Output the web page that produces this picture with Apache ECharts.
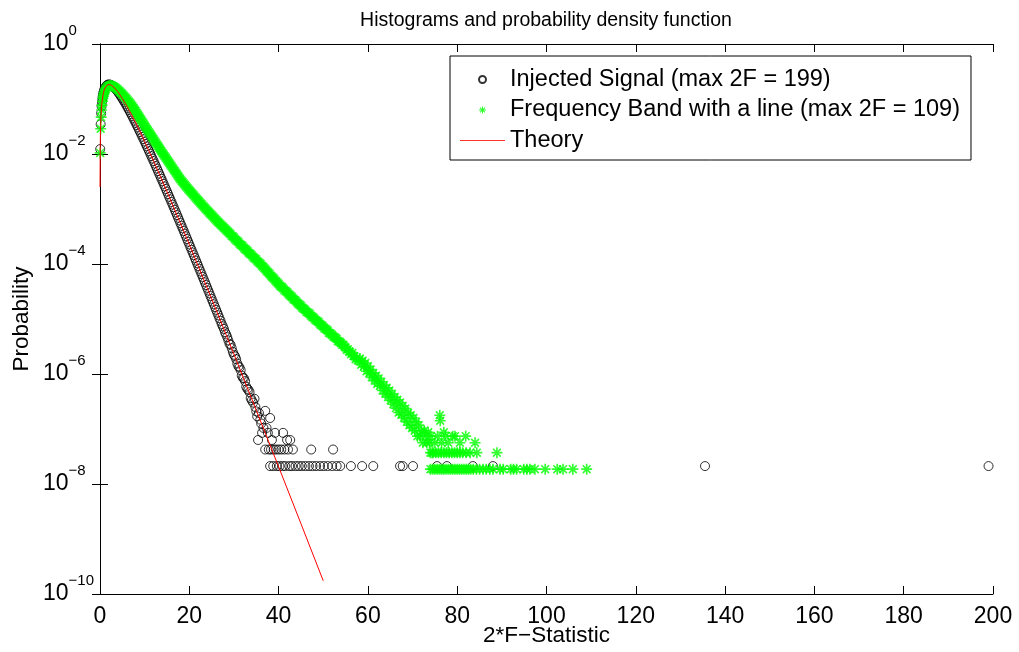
<!DOCTYPE html>
<html>
<head>
<meta charset="utf-8">
<script src="https://cdn.jsdelivr.net/npm/echarts@6/dist/echarts.min.js"></script>
<style>
	html, body { margin: 0; padding: 0; background: #fff; }
	#chart { width: 1019px; height: 652px; }
</style>
</head>
<body>
<div id="chart"></div>
<script>
// values: [2F, log10(probability)]
var xTicks = [0, 20, 40, 60, 80, 100, 120, 140, 160, 180, 200];
var yTicks = [-10, -8, -6, -4, -2, 0];

// injected signal, dense part of the histogram
var signalBand = [
	[0.05,-1.91],[0.15,-1.46],[0.25,-1.26],[0.35,-1.13],[0.45,-1.05],[0.55,-0.98],[0.65,-0.93],
	[0.75,-0.89],[0.85,-0.86],[0.95,-0.83],[1.1,-0.80],[1.25,-0.78],[1.5,-0.752],[1.75,-0.74],
	[2,-0.735],[2.25,-0.739],[2.5,-0.747],[2.75,-0.76],[3,-0.776],[3.25,-0.796],[3.5,-0.818],
	[3.75,-0.842],[4,-0.869],[4.25,-0.897],[4.5,-0.926],[4.75,-0.957],[5,-0.989],[5.25,-1.022],
	[5.5,-1.056],[5.75,-1.091],[6,-1.127],[6.25,-1.163],[6.5,-1.200],[6.75,-1.238],[7,-1.277],
	[7.25,-1.316],[7.5,-1.356],[7.75,-1.396],[8,-1.436],[8.25,-1.477],[8.5,-1.518],[8.75,-1.56],
	[9,-1.602],[9.25,-1.644],[9.5,-1.687],[9.75,-1.73],[10,-1.774],[10.25,-1.817],[10.5,-1.861],
	[10.75,-1.905],[11,-1.949],[11.25,-1.994],[11.5,-2.039],[11.75,-2.084],[12,-2.129],
	[12.25,-2.174],[12.5,-2.219],[12.75,-2.265],[13,-2.311],[13.25,-2.357],[13.5,-2.404],
	[13.75,-2.45],[14,-2.496],[14.25,-2.543],[14.5,-2.590],[14.75,-2.636],[15,-2.683],
	[15.25,-2.73],[15.5,-2.778],[15.75,-2.825],[16,-2.872],[16.25,-2.92],[16.5,-2.968],
	[16.75,-3.015],[17,-3.063],[17.25,-3.111],[17.5,-3.159],[17.75,-3.207],[18,-3.256],
	[18.25,-3.304],[18.5,-3.352],[18.75,-3.40],[19,-3.449],[19.25,-3.497],[19.5,-3.546],
	[19.75,-3.595],[20,-3.644],[20.25,-3.693],[20.5,-3.742],[20.75,-3.791],[21,-3.840],
	[21.25,-3.889],[21.5,-3.938],[21.75,-3.987],[22,-4.037],[22.25,-4.086],[22.5,-4.136],
	[22.75,-4.185],[23,-4.235],[23.25,-4.284],[23.5,-4.334],[23.75,-4.383],[24,-4.433],
	[24.25,-4.483],[24.5,-4.533],[24.75,-4.583],[25,-4.633],[25.25,-4.683],[25.5,-4.733],
	[25.75,-4.783],[26,-4.833],[26.25,-4.883],[26.5,-4.933],[26.75,-4.984],[27,-5.034],
	[27.25,-5.09],[27.5,-5.134],[27.75,-5.18],[28,-5.24],[28.25,-5.28],[28.5,-5.33],
	[28.75,-5.39],[29,-5.45],[29.25,-5.47],[29.5,-5.53],[29.75,-5.60],[30,-5.65],[30.25,-5.68],
	[30.5,-5.73],[30.75,-5.81],[31,-5.86],[31.25,-5.88],[31.5,-5.93],[31.75,-6.03],[32,-6.07],
	[32.25,-6.08],[32.5,-6.13],[32.75,-6.23],[33,-6.27],[33.25,-6.29],[33.5,-6.33],
	[33.75,-6.44],[34,-6.48]
];
// injected signal, scattered low-count bins
var signalTail = [
	[34.3,-6.52],[34.6,-6.45],[34.8,-6.60],[35.0,-6.68],[35.2,-6.77],[35.4,-7.20],[35.6,-6.71],
	[35.9,-6.83],[36.1,-6.90],[36.3,-7.07],[36.6,-6.98],[37.0,-6.67],[37.3,-6.98],[37.6,-7.07],
	[38.1,-6.80],[38.5,-7.20],[39.2,-7.07],[41.0,-7.07],[41.9,-7.20],[42.6,-7.20],
	[37.0,-7.373],[37.8,-7.373],[38.3,-7.373],[38.9,-7.373],[39.4,-7.373],[40.0,-7.373],
	[40.6,-7.373],[41.3,-7.373],[42.1,-7.373],[43.2,-7.373],[47.3,-7.373],[52.2,-7.373],
	[38.1,-7.674],[38.8,-7.674],[39.6,-7.674],[40.2,-7.674],[40.9,-7.674],[41.5,-7.674],
	[42.4,-7.674],[43.0,-7.674],[43.8,-7.674],[44.5,-7.674],[45.2,-7.674],[46.0,-7.674],
	[46.8,-7.674],[47.6,-7.674],[48.4,-7.674],[49.3,-7.674],[50.1,-7.674],[51.0,-7.674],
	[52.0,-7.674],[53.0,-7.674],[53.8,-7.674],[56.2,-7.674],[58.7,-7.674],[61.2,-7.674],
	[67.2,-7.674],[67.8,-7.674],[70.1,-7.674],[75.5,-7.674],[77.7,-7.674],[83.5,-7.674],
	[88.0,-7.674],[135.5,-7.674],[199,-7.674]
];

// frequency band with a line, dense part
var bandBand = [
	[0.05,-1.98],[0.15,-1.54],[0.25,-1.33],[0.35,-1.20],[0.45,-1.11],[0.55,-1.04],[0.65,-0.99],
	[0.75,-0.95],[0.85,-0.915],[0.95,-0.885],[1.1,-0.85],[1.25,-0.82],[1.5,-0.79],[1.75,-0.77],
	[2,-0.76],[2.25,-0.756],[2.5,-0.755],[2.75,-0.76],[3,-0.77],[3.25,-0.781],[3.5,-0.795],
	[3.75,-0.812],[4,-0.83],[4.25,-0.85],[4.5,-0.87],[4.75,-0.89],[5,-0.91],[5.25,-0.932],
	[5.5,-0.955],[5.75,-0.977],[6,-1.00],[6.25,-1.025],[6.5,-1.05],[6.75,-1.075],[7,-1.10],
	[7.25,-1.13],[7.5,-1.16],[7.75,-1.19],[8,-1.22],[8.25,-1.252],[8.5,-1.285],[8.75,-1.317],
	[9,-1.35],[9.25,-1.382],[9.5,-1.415],[9.75,-1.447],[10,-1.48],[10.25,-1.512],[10.5,-1.545],
	[10.75,-1.576],[11,-1.607],[11.25,-1.638],[11.5,-1.67],[11.75,-1.70],[12,-1.732],
	[12.25,-1.763],[12.5,-1.794],[12.75,-1.825],[13,-1.856],[13.25,-1.887],[13.5,-1.918],
	[13.75,-1.949],[14,-1.98],[14.25,-2.01],[14.5,-2.04],[14.75,-2.07],[15,-2.10],[15.25,-2.13],
	[15.5,-2.16],[15.75,-2.19],[16,-2.22],[16.25,-2.25],[16.5,-2.28],[16.75,-2.31],[17,-2.34],
	[17.25,-2.37],[17.5,-2.40],[17.75,-2.43],[18,-2.46],[18.25,-2.485],[18.5,-2.51],
	[18.75,-2.535],[19,-2.56],[19.25,-2.585],[19.5,-2.61],[19.75,-2.635],[20,-2.66],
	[20.25,-2.682],[20.5,-2.705],[20.75,-2.727],[21,-2.75],[21.25,-2.775],[21.5,-2.80],
	[21.75,-2.822],[22,-2.845],[22.25,-2.867],[22.5,-2.89],[22.75,-2.912],[23,-2.935],
	[23.25,-2.957],[23.5,-2.98],[23.75,-3.002],[24,-3.025],[24.25,-3.047],[24.5,-3.07],
	[24.75,-3.09],[25,-3.11],[25.25,-3.132],[25.5,-3.155],[25.75,-3.177],[26,-3.20],
	[26.25,-3.22],[26.5,-3.24],[26.75,-3.26],[27,-3.28],[27.25,-3.30],[27.5,-3.32],
	[27.75,-3.34],[28,-3.36],[28.25,-3.38],[28.5,-3.40],[28.75,-3.42],[29,-3.44],[29.25,-3.46],
	[29.5,-3.49],[29.75,-3.50],[30,-3.52],[30.25,-3.55],[30.5,-3.57],[30.75,-3.58],[31,-3.60],
	[31.25,-3.63],[31.5,-3.65],[31.75,-3.66],[32,-3.68],[32.25,-3.71],[32.5,-3.73],
	[32.75,-3.74],[33,-3.76],[33.25,-3.79],[33.5,-3.81],[33.75,-3.82],[34,-3.84],[34.25,-3.87],
	[34.5,-3.89],[34.75,-3.90],[35,-3.92],[35.25,-3.95],[35.5,-3.97],[35.75,-3.98],[36,-4.00],
	[36.25,-4.03],[36.5,-4.05],[36.75,-4.07],[37,-4.09],[37.25,-4.12],[37.5,-4.14],
	[37.75,-4.16],[38,-4.18],[38.25,-4.21],[38.5,-4.23],[38.75,-4.25],[39,-4.27],[39.25,-4.30],
	[39.5,-4.32],[39.75,-4.34],[40,-4.36],[40.25,-4.39],[40.5,-4.41],[40.75,-4.42],[41,-4.44],
	[41.25,-4.47],[41.5,-4.49],[41.75,-4.50],[42,-4.52],[42.25,-4.55],[42.5,-4.57],
	[42.75,-4.58],[43,-4.60],[43.25,-4.63],[43.5,-4.65],[43.75,-4.66],[44,-4.68],[44.25,-4.71],
	[44.5,-4.73],[44.75,-4.74],[45,-4.76],[45.25,-4.79],[45.5,-4.81],[45.75,-4.82],[46,-4.84],
	[46.25,-4.87],[46.5,-4.88],[46.75,-4.89],[47,-4.91],[47.25,-4.94],[47.5,-4.96],
	[47.75,-4.97],[48,-4.99],[48.25,-5.02],[48.5,-5.03],[48.75,-5.04],[49,-5.06],[49.25,-5.09],
	[49.5,-5.11],[49.75,-5.12],[50,-5.14],[50.25,-5.17],[50.5,-5.18],[50.75,-5.19],[51,-5.21],
	[51.25,-5.25],[51.5,-5.26],[51.75,-5.27],[52,-5.29],[52.25,-5.32],[52.5,-5.33],
	[52.75,-5.34],[53,-5.36],[53.25,-5.40],[53.5,-5.41],[53.75,-5.42],[54,-5.44],[54.25,-5.47],
	[54.5,-5.47],[54.75,-5.50],[55,-5.52],[55.25,-5.56],[55.5,-5.55],[55.75,-5.59],[56,-5.60],
	[56.25,-5.64],[56.5,-5.62],[56.75,-5.67],[57,-5.68],[57.25,-5.73],[57.5,-5.71],[57.75,-5.75]
];
// frequency band with a line, noisy and low-count bins
var bandTail = [
	[58.2,-5.72],[58.5,-5.83],[58.8,-5.76],[59.1,-5.87],[59.4,-5.80],[59.7,-5.95],[60.0,-5.86],
	[60.3,-5.99],[60.6,-5.92],[60.9,-6.06],[61.2,-5.98],[61.5,-6.12],[61.8,-6.03],[62.1,-6.18],
	[62.4,-6.08],[62.7,-6.22],[63.0,-6.14],[63.3,-6.30],[63.6,-6.20],[63.9,-6.36],[64.2,-6.25],
	[64.5,-6.42],[64.8,-6.30],[65.1,-6.48],[65.4,-6.36],[65.7,-6.55],[66.0,-6.42],[66.3,-6.62],
	[66.6,-6.47],[66.9,-6.70],[67.2,-6.52],[67.5,-6.74],[67.8,-6.58],[68.1,-6.80],[68.4,-6.63],
	[68.7,-6.87],[69.0,-6.70],[69.3,-6.93],[69.6,-6.75],[69.9,-6.98],[70.2,-6.80],[70.5,-7.03],
	[70.8,-6.87],[71.1,-7.13],[71.4,-6.93],[71.7,-7.13],[72.0,-7.03],[72.3,-7.25],[72.6,-7.03],
	[72.9,-7.13],[73.2,-7.25],[73.5,-7.06],[73.8,-7.25],[74.1,-7.13],[74.4,-7.43],[75.0,-7.25],
	[75.6,-7.13],[76.1,-6.75],[76.2,-6.85],[76.5,-7.25],[77.0,-7.06],[77.4,-7.13],[78.0,-7.25],
	[79.0,-7.13],[79.5,-7.13],[80.6,-7.25],[81.9,-7.13],[84.0,-7.25],
	[74.0,-7.43],[74.6,-7.43],[75.2,-7.43],[75.8,-7.43],[76.4,-7.43],[77.0,-7.43],[77.6,-7.43],
	[78.2,-7.43],[78.8,-7.43],[79.4,-7.43],[80.0,-7.43],[80.6,-7.43],[81.2,-7.43],[82.0,-7.43],
	[82.9,-7.43],[84.4,-7.43],[88.9,-7.43],
	[74.0,-7.73],[74.5,-7.73],[75.0,-7.73],[75.5,-7.73],[76.0,-7.73],[76.5,-7.73],[77.0,-7.73],
	[77.5,-7.73],[78.0,-7.73],[78.5,-7.73],[79.0,-7.73],[79.5,-7.73],[80.0,-7.73],[80.5,-7.73],
	[81.0,-7.73],[81.5,-7.73],[82.0,-7.73],[82.5,-7.73],[83.0,-7.73],[83.6,-7.73],[84.3,-7.73],
	[85.0,-7.73],[85.8,-7.73],[86.5,-7.73],[87.3,-7.73],[88.0,-7.73],[89.6,-7.73],[90.3,-7.73],
	[92.0,-7.73],[92.6,-7.73],[93.3,-7.73],[94.9,-7.73],[95.6,-7.73],[96.3,-7.73],[97.4,-7.73],
	[99.7,-7.73],[102.4,-7.73],[103.7,-7.73],[105.9,-7.73],[109,-7.73]
];

// theory curve
var theory = [
	[0.01,-2.60],[0.05,-1.91],[0.1,-1.62],[0.2,-1.345],[0.4,-1.087],[0.7,-0.91],[1,-0.818],
	[1.5,-0.752],[2,-0.735],[2.5,-0.747],[3,-0.776],[4,-0.869],[5,-0.989],[6,-1.127],
	[7,-1.277],[8,-1.436],[9,-1.602],[10,-1.774],[12,-2.129],[15,-2.683],[20,-3.644],
	[25,-4.633],[30,-5.640],[35,-6.66],[40,-7.686],[45,-8.72],[50,-9.76]
];

var names = ['Injected Signal (max 2F = 199)', 'Frequency Band with a line (max 2F = 109)', 'Theory'];

var font = '"Liberation Sans", Arial, sans-serif';
var star = 'path://M-0.75,-5L0.75,-5L0.75,5L-0.75,5Z' +
	'M-5,-0.75L5,-0.75L5,0.75L-5,0.75Z' +
	'M-3.01,-4.07L4.07,3.01L3.01,4.07L-4.07,-3.01Z' +
	'M-4.07,3.01L3.01,-4.07L4.07,-3.01L-3.01,4.07Z';

function pts(list) {
	return list.map(function(d) { return [d[0], Math.pow(10, d[1])]; });
}

function powLabel(v) {
	var e = Math.round(Math.log10(v));
	return '{b|10}{s|' + (e < 0 ? '\u2212' + (-e) : e) + '}';
}

function chart() {
	let myChart = echarts.init(document.getElementById('chart'));

	let xBase = {
		type: 'value',
		min: xTicks[0],
		max: xTicks[xTicks.length - 1],
		interval: xTicks[1] - xTicks[0],
		splitLine: { show: false },
		axisLine: { lineStyle: { color: '#000', width: 1 } },
		axisTick: { inside: true, length: 8, lineStyle: { color: '#000' } }
	};
	let yBase = {
		type: 'log',
		logBase: 10,
		min: Math.pow(10, yTicks[0]),
		max: Math.pow(10, yTicks[yTicks.length - 1]),
		interval: yTicks[1] - yTicks[0],
		splitLine: { show: false },
		minorTick: { show: false },
		axisLine: { lineStyle: { color: '#000', width: 1 } },
		axisTick: { inside: true, length: 8, lineStyle: { color: '#000' } }
	};

	option = {
		animation: false,
		backgroundColor: '#fff',
		textStyle: { fontFamily: font },
		title: {
			text: 'Histograms and probability density function',
			left: 546,
			top: 11,
			textAlign: 'center',
			padding: 0,
			textStyle: { fontFamily: font, fontSize: 19.5, fontWeight: 'normal', color: '#000' }
		},
		legend: {
			orient: 'vertical',
			left: 450,
			top: 56,
			padding: [11.5, 11, 7.5, 10],
			itemWidth: 45,
			itemHeight: 7,
			itemGap: 6.5,
			selectedMode: false,
			backgroundColor: '#fff',
			borderColor: '#000',
			borderWidth: 1,
			textStyle: { fontFamily: font, fontSize: 23.5, lineHeight: 24, color: '#000' },
			data: [names[0], names[1], {
				name: names[2],
				icon: 'path://M0,0L45,0L45,1L0,1Z',
				itemStyle: { color: '#ff3030' }
			}]
		},
		grid: { left: 100, right: 26, top: 44, bottom: 58, containLabel: false, outerBoundsMode: 'none' },
		xAxis: [Object.assign({}, xBase, {
			position: 'bottom',
			name: '2*F\u2212Statistic',
			nameLocation: 'middle',
			nameGap: 30,
			nameMoveOverlap: false,
			nameTextStyle: { fontFamily: font, fontSize: 22.5, color: '#000' },
			axisLabel: { margin: 11, fontFamily: font, fontSize: 23, color: '#000' }
		}), Object.assign({}, xBase, {
			position: 'top',
			axisLabel: { show: false }
		})],
		yAxis: [Object.assign({}, yBase, {
			position: 'left',
			name: 'Probability',
			nameLocation: 'middle',
			nameGap: 67,
			nameMoveOverlap: false,
			nameTextStyle: { fontFamily: font, fontSize: 22.5, color: '#000' },
			axisLabel: {
				margin: 57,
				align: 'left',
				formatter: powLabel,
				rich: {
					b: { fontFamily: font, fontSize: 23, lineHeight: 42, verticalAlign: 'middle', color: '#000' },
					s: { fontFamily: font, fontSize: 15, lineHeight: 15, verticalAlign: 'top', color: '#000' }
				}
			}
		}), Object.assign({}, yBase, {
			position: 'right',
			axisLabel: { show: false }
		})],
		series: [{
			name: names[0],
			type: 'scatter',
			symbol: 'circle',
			symbolSize: 9,
			itemStyle: { color: 'rgba(0,0,0,0)', borderColor: '#000', borderWidth: 1 },
			data: pts(signalBand.concat(signalTail))
		}, {
			name: names[1],
			type: 'scatter',
			symbol: star,
			symbolSize: 11,
			itemStyle: { color: '#00ff00' },
			data: pts(bandBand.concat(bandTail))
		}, {
			name: names[2],
			type: 'line',
			symbol: 'none',
			lineStyle: { color: '#ff0000', width: 1 },
			itemStyle: { color: '#ff0000' },
			data: pts(theory)
		}]
	};

	myChart.setOption(option);
	window.addEventListener('resize', function() {
		myChart.resize();
	})
}

chart();
</script>
</body>
</html>
